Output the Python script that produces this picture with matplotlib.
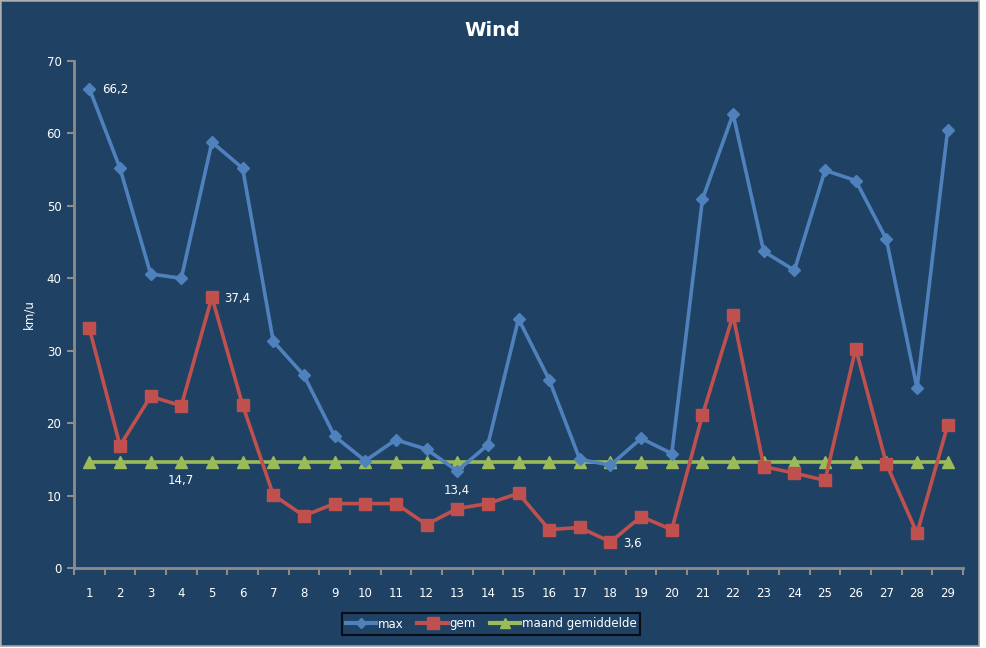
import matplotlib
matplotlib.use("Agg")
import matplotlib.pyplot as plt
from matplotlib.patches import Rectangle
from matplotlib.lines import Line2D

days = list(range(1, 30))
max_vals = [66.2, 55.2, 40.6, 40.0, 58.8, 55.2, 31.3, 26.6, 18.2, 14.8,
            17.7, 16.4, 13.4, 17.0, 34.4, 26.0, 15.0, 14.2, 17.9, 15.8,
            50.9, 62.7, 43.7, 41.1, 54.9, 53.5, 45.4, 24.8, 60.5]
gem_vals = [33.1, 16.9, 23.7, 22.4, 37.4, 22.5, 10.1, 7.2, 8.9, 8.9,
            8.9, 6.0, 8.2, 8.9, 10.3, 5.3, 5.6, 3.6, 7.1, 5.3,
            21.1, 34.9, 14.0, 13.1, 12.1, 30.3, 14.4, 4.8, 19.7]
avg_val = 14.7
avg_vals = [avg_val] * len(days)

bg = "#1F4164"
c_max = "#4F81BD"
c_gem = "#C0504D"
c_avg = "#9BBB59"
axis_c = "#8C8C8C"

W, H = 987, 648
fig = plt.figure(figsize=(W / 100, H / 100), dpi=100)
fig.patch.set_facecolor("white")
fig.add_artist(Rectangle((0.5 / W, 1 - 645.5 / H), 978.5 / W, 645 / H,
                         transform=fig.transFigure, facecolor=bg,
                         edgecolor="#A0A0A0", linewidth=1.2, zorder=-10))

ax = fig.add_axes([74 / W, 1 - 568 / H, (963 - 74) / W, (568 - 61) / H])
ax.set_facecolor(bg)
ax.patch.set_alpha(0)

ax.plot(days, avg_vals, color=c_avg, lw=2.6, marker="^", ms=8, zorder=3)
ax.plot(days, max_vals, color=c_max, lw=2.6, marker="D", ms=6, zorder=4)
ax.plot(days, gem_vals, color=c_gem, lw=2.6, marker="s", ms=8, zorder=5)

ax.set_xlim(0.5, 29.5)
ax.set_ylim(0, 70)
ax.set_yticks(range(0, 71, 10))
ax.set_xticks(days)
ax.set_xticklabels([str(d) for d in days])
ax.set_xticks([d + 0.5 for d in range(0, 30)], minor=True)
ax.tick_params(axis="x", which="major", length=0, pad=14, colors="white", labelsize=8.5)
ax.tick_params(axis="x", which="minor", length=5, color=axis_c, width=1.5, direction="out")
ax.tick_params(axis="y", length=5, color=axis_c, width=1.5, colors="white", labelsize=8.5, pad=4)
for s in ["top", "right"]:
    ax.spines[s].set_visible(False)
for s in ["left", "bottom"]:
    ax.spines[s].set_color(axis_c)
    ax.spines[s].set_linewidth(2)

ax.set_ylabel("km/u", color="white", fontsize=8.5, labelpad=8)

# data labels
lab = dict(color="white", fontsize=8.5)
ax.annotate("66,2", (1, max_vals[0]), xytext=(9, -1), textcoords="offset points", va="center", **lab)
ax.annotate("37,4", (5, gem_vals[4]), xytext=(9, -1), textcoords="offset points", va="center", **lab)
ax.annotate("14,7", (4, avg_val), xytext=(0, -14), textcoords="offset points", ha="center", va="center", **lab)
ax.annotate("13,4", (13, max_vals[12]), xytext=(0, -14), textcoords="offset points", ha="center", va="center", **lab)
ax.annotate("3,6", (18, gem_vals[17]), xytext=(9, -1), textcoords="offset points", va="center", **lab)

fig.text(492 / W, 1 - 31 / H, "Wind", color="white", fontsize=14, fontweight="bold",
         ha="center", va="center")

handles = [Line2D([], [], color=c_max, lw=3, marker="D", ms=5),
           Line2D([], [], color=c_gem, lw=3, marker="s", ms=8),
           Line2D([], [], color=c_avg, lw=3, marker="^", ms=7)]
leg = fig.legend(handles, ["max", "gem", "maand gemiddelde"], loc="center",
                 bbox_to_anchor=(491 / W, 1 - 624 / H), ncol=3, frameon=True,
                 fontsize=8.5, labelcolor="white", handlelength=2.6, handletextpad=0.1,
                 columnspacing=1.2, borderpad=0.35, borderaxespad=0, fancybox=False)
leg.get_frame().set_facecolor(bg)
leg.get_frame().set_edgecolor("black")
leg.get_frame().set_linewidth(1.5)

fig.savefig("out.png", dpi=100, facecolor=fig.get_facecolor())
